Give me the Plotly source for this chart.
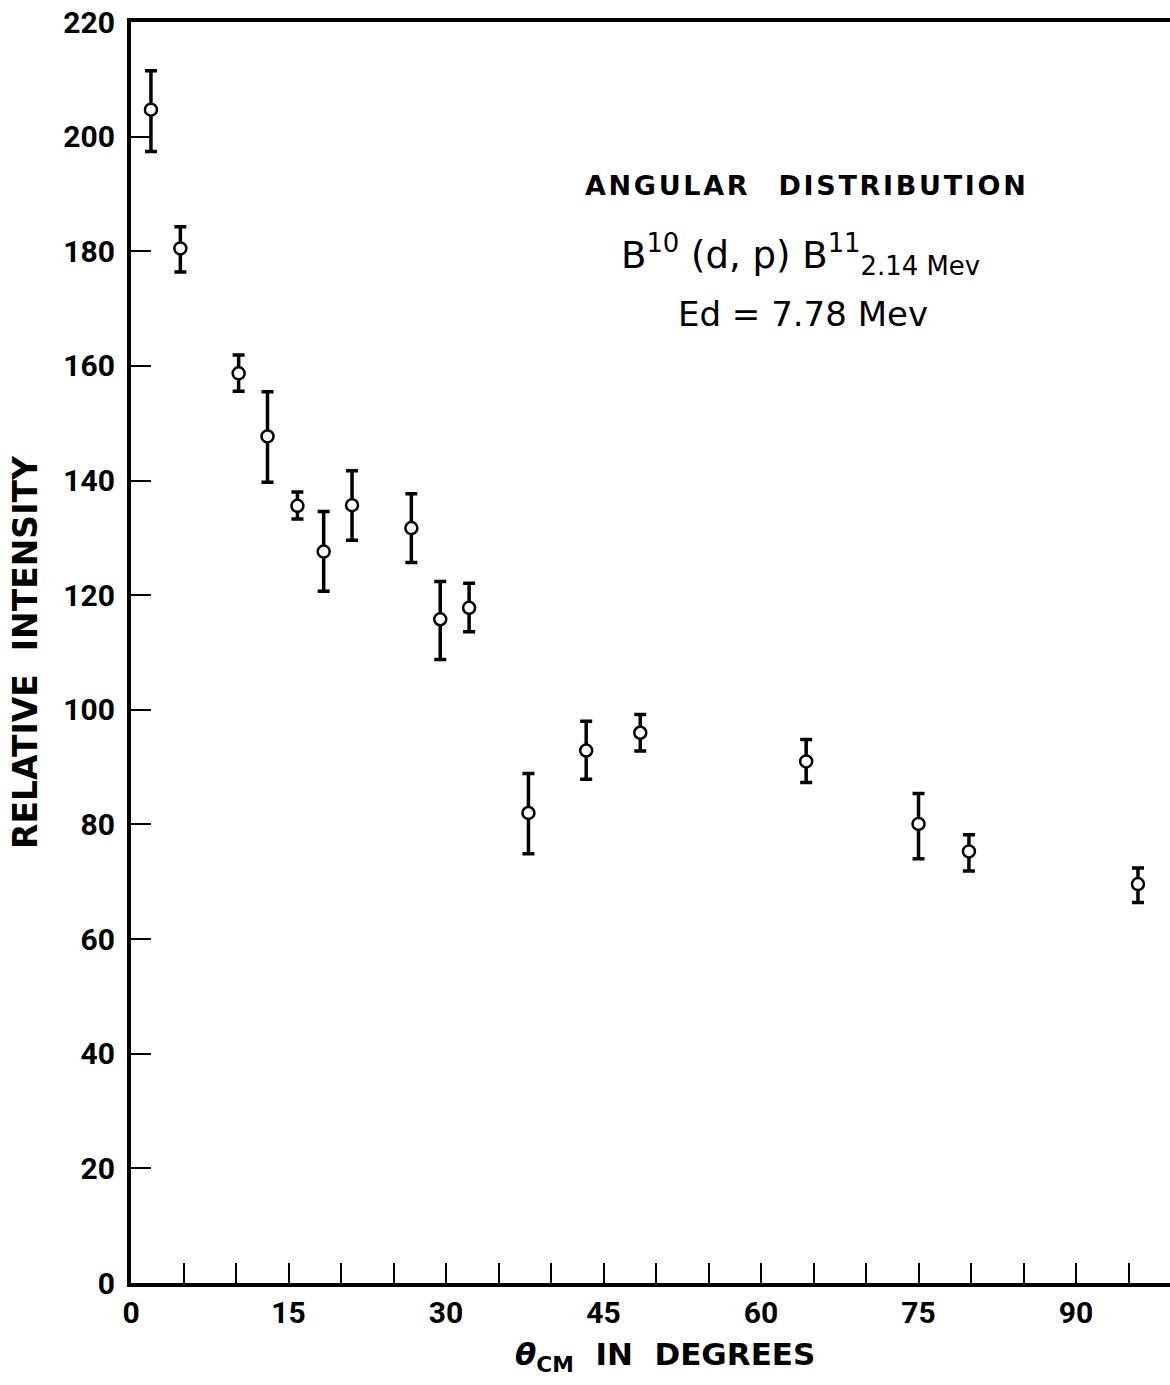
import plotly.graph_objects as go

# Data
theta_cm = [1.9, 4.7, 10.25, 13.0, 15.85, 18.35, 21.05, 26.7, 29.45, 32.2,
            37.85, 43.35, 48.5, 64.3, 75.0, 79.8, 95.9]
intensity = [204.7, 180.5, 158.7, 147.7, 135.6, 127.6, 135.7, 131.7, 115.8, 117.8,
             82.0, 92.9, 96.0, 91.0, 80.1, 75.3, 69.6]
err_upper = [211.5, 184.3, 161.9, 155.5, 138.0, 134.6, 141.7, 137.7, 122.4, 122.1,
             88.9, 98.0, 99.2, 94.8, 85.4, 78.2, 72.4]
err_lower = [197.4, 176.4, 155.6, 139.7, 133.3, 120.7, 129.6, 125.7, 108.8, 113.6,
             74.9, 87.9, 92.8, 87.3, 74.0, 71.9, 66.4]

x_tickvals = list(range(0, 100, 5))
x_ticktext = [str(v) if v % 15 == 0 else "" for v in x_tickvals]
y_tickvals = list(range(0, 221, 20))

plus = [u - v for u, v in zip(err_upper, intensity)]
minus = [v - l for v, l in zip(intensity, err_lower)]

TICKFONT = "Roboto"
TEXTFONT = "DejaVu Sans"
HAIR = "\u200a"


def spaced(s):
    return HAIR.join(s).replace(HAIR + " " + HAIR, "&nbsp;&nbsp;")


fig = go.Figure()
fig.add_trace(go.Scatter(
    x=theta_cm, y=intensity, mode="markers",
    marker=dict(symbol="circle", size=12, color="white",
                line=dict(color="black", width=2.5)),
    error_y=dict(type="data", symmetric=False, array=plus, arrayminus=minus,
                 color="black", thickness=3.5, width=6),
    showlegend=False,
))

# Plot area runs a little past the right edge of the window, as in the
# reference where the frame is cut off.
W, H = 1174, 1385
ml, mr, mt, mb = 131, 0, 22, 102
pw = W - ml - mr
ph = H - mt - mb

fig.update_layout(
    width=W, height=H,
    margin=dict(l=ml, r=mr, t=mt, b=mb, autoexpand=False),
    paper_bgcolor="white", plot_bgcolor="white",
    font=dict(family=TEXTFONT, color="black"),
    xaxis=dict(range=[0, 99.33], tickvals=x_tickvals, ticktext=x_ticktext,
               ticks="inside", ticklen=20, tickwidth=2.2, tickcolor="black",
               showline=True, linewidth=4, linecolor="black", mirror=True,
               showgrid=False, zeroline=False, automargin=False,
               ticklabeloverflow="allow",
               tickfont=dict(size=30, family=TICKFONT, weight="bold")),
    yaxis=dict(range=[0, 220], tickvals=y_tickvals,
               ticks="inside", ticklen=20, tickwidth=2.2, tickcolor="black",
               showline=True, linewidth=4, linecolor="black",
               showgrid=False, zeroline=False, automargin=False,
               ticklabelstandoff=6, ticklabeloverflow="allow",
               tickfont=dict(size=30, family=TICKFONT, weight="bold")),
)


def px_to_paper(px, py):
    return (px - ml) / pw, (H - mb - py) / ph


yx, yy = px_to_paper(25, 652)
fig.add_annotation(
    text="RELATIVE&nbsp;&nbsp;INTENSITY",
    xref="paper", yref="paper", x=yx, y=yy,
    xanchor="center", yanchor="middle",
    textangle=-90, showarrow=False,
    font=dict(size=33, family=TEXTFONT, weight="bold"),
)
tx, ty = px_to_paper(665, 1356)
fig.add_annotation(
    text="<i>θ</i><sub>CM</sub>&nbsp;&nbsp;IN&nbsp;&nbsp;DEGREES",
    xref="paper", yref="paper", x=tx, y=ty,
    xanchor="center", yanchor="middle",
    showarrow=False,
    font=dict(size=31, family=TEXTFONT, weight="bold"),
)
fig.add_annotation(
    text=spaced("ANGULAR  DISTRIBUTION"),
    x=64.2, y=191.4, showarrow=False,
    font=dict(size=27, family=TEXTFONT, weight="bold"),
)
fig.add_annotation(
    text="B<sup>10</sup> (d, p) B<sup>11</sup><sub>2.14 Mev</sub>",
    x=63.8, y=179.4, showarrow=False,
    font=dict(size=37, family=TEXTFONT),
)
fig.add_annotation(
    text="Ed = 7.78 Mev",
    x=64.0, y=169.0, showarrow=False,
    font=dict(size=34, family=TEXTFONT),
)

fig.write_html(
    "out.html",
    config={"displayModeBar": False},
    post_script="document.body.style.margin='0';document.body.style.overflow='hidden';",
)
